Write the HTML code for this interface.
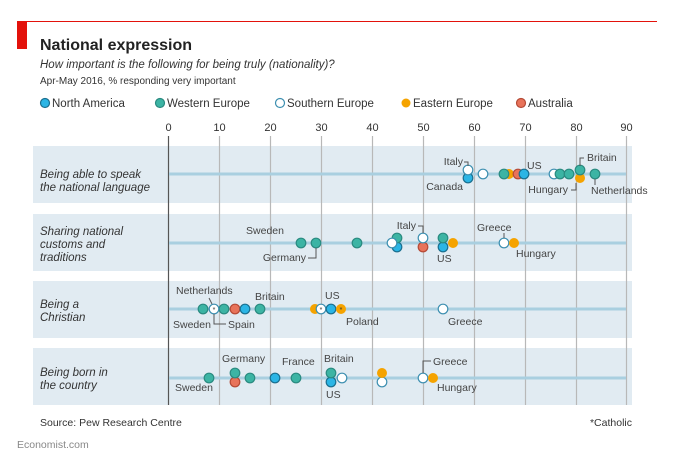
<!DOCTYPE html>
<html><head><meta charset="utf-8"><style>
body{margin:0;background:#fff}
svg{display:block;font-family:"Liberation Sans",sans-serif}
</style></head><body>
<svg width="675" height="475" viewBox="0 0 675 475" xmlns="http://www.w3.org/2000/svg">
<line x1="17" y1="21.5" x2="657" y2="21.5" stroke="#e3120b" stroke-width="1"/>
<rect x="17" y="22" width="10" height="27" fill="#e3120b"/>
<text x="40" y="50" font-size="16" font-weight="bold" fill="#222">National expression</text>
<text x="40" y="68" font-size="11.5" font-style="italic" fill="#333">How important is the following for being truly (nationality)?</text>
<text x="40" y="84" font-size="10" fill="#333">Apr-May 2016, % responding very important</text>
<g font-size="11.5" fill="#333">
<circle cx="45" cy="103" r="4.5" fill="#2bb5e5" stroke="#1a6f8f" stroke-width="1.2"/><text x="52" y="107">North America</text>
<circle cx="160" cy="103" r="4.5" fill="#3cb4a4" stroke="#2a8a80" stroke-width="1.2"/><text x="167" y="107">Western Europe</text>
<circle cx="280" cy="103" r="4.5" fill="#fff" stroke="#3d8fb0" stroke-width="1.2"/><text x="287" y="107">Southern Europe</text>
<circle cx="406" cy="103" r="4.5" fill="#f5a300"/><text x="413" y="107">Eastern Europe</text>
<circle cx="521" cy="103" r="4.5" fill="#e8735a" stroke="#b54a36" stroke-width="1.2"/><text x="528" y="107">Australia</text>
</g>
<g font-size="11" fill="#333" text-anchor="middle">
<text x="168.5" y="131">0</text><text x="219.5" y="131">10</text><text x="270.5" y="131">20</text><text x="321.5" y="131">30</text><text x="372.5" y="131">40</text><text x="423.5" y="131">50</text><text x="474.5" y="131">60</text><text x="525.5" y="131">70</text><text x="576.5" y="131">80</text><text x="626.5" y="131">90</text>
</g>
<g fill="#e1ebf2">
<rect x="33" y="146" width="599" height="57"/>
<rect x="33" y="214" width="599" height="57"/>
<rect x="33" y="281" width="599" height="57"/>
<rect x="33" y="348" width="599" height="57"/>
</g>
<g stroke="#b8b8b8" stroke-width="1.2">
<line x1="219.5" y1="136" x2="219.5" y2="405"/><line x1="270.5" y1="136" x2="270.5" y2="405"/><line x1="321.5" y1="136" x2="321.5" y2="405"/><line x1="372.5" y1="136" x2="372.5" y2="405"/><line x1="423.5" y1="136" x2="423.5" y2="405"/><line x1="474.5" y1="136" x2="474.5" y2="405"/><line x1="525.5" y1="136" x2="525.5" y2="405"/><line x1="576.5" y1="136" x2="576.5" y2="405"/><line x1="626.5" y1="136" x2="626.5" y2="405"/>
</g>
<line x1="168.5" y1="136" x2="168.5" y2="405" stroke="#555" stroke-width="1.2"/>
<g stroke="#a9cfe0" stroke-width="3">
<line x1="169" y1="174" x2="626" y2="174"/><line x1="169" y1="243" x2="626" y2="243"/><line x1="169" y1="309" x2="626" y2="309"/><line x1="169" y1="378" x2="626" y2="378"/>
</g>
<g font-size="11.5" font-style="italic" fill="#333">
<text x="40" y="178">Being able to speak</text><text x="40" y="191">the national language</text>
<text x="40" y="235">Sharing national</text><text x="40" y="248">customs and</text><text x="40" y="261">traditions</text>
<text x="40" y="308">Being a</text><text x="40" y="321">Christian</text>
<text x="40" y="376">Being born in</text><text x="40" y="389">the country</text>
</g>
<defs>
<circle id="na" r="4.8" fill="#2bb5e5" stroke="#1a6f8f" stroke-width="1.2"/>
<circle id="we" r="4.8" fill="#3cb4a4" stroke="#2a8a80" stroke-width="1.2"/>
<circle id="se" r="4.8" fill="#fff" stroke="#3d8fb0" stroke-width="1.2"/>
<circle id="ee" r="5" fill="#f5a300"/>
<circle id="au" r="4.8" fill="#e8735a" stroke="#b54a36" stroke-width="1.2"/>
</defs>
<!-- row1 -->
<use href="#na" x="468" y="178"/><use href="#se" x="468" y="170"/>
<use href="#se" x="483" y="174"/><use href="#ee" x="509" y="174"/><use href="#we" x="504" y="174"/>
<use href="#au" x="518" y="174"/><use href="#na" x="524" y="174"/>
<use href="#se" x="554" y="174"/><use href="#we" x="560" y="174"/><use href="#we" x="569" y="174"/>
<use href="#ee" x="580" y="178"/><use href="#we" x="580" y="170"/><use href="#we" x="595" y="174"/>
<!-- row2 -->
<use href="#we" x="301" y="243"/><use href="#we" x="316" y="243"/><use href="#we" x="357" y="243"/>
<use href="#na" x="397" y="247"/><use href="#we" x="397" y="238"/><use href="#se" x="392" y="243"/>
<use href="#au" x="423" y="247"/><use href="#se" x="423" y="238"/>
<use href="#na" x="443" y="247"/><use href="#we" x="443" y="238"/><use href="#ee" x="453" y="243"/>
<use href="#se" x="504" y="243"/><use href="#ee" x="514" y="243"/>
<!-- row3 -->
<use href="#we" x="203" y="309"/><use href="#we" x="224" y="309"/><use href="#se" x="214" y="309"/>
<use href="#au" x="235" y="309"/><use href="#na" x="245" y="309"/><use href="#we" x="260" y="309"/>
<use href="#ee" x="315" y="309"/><use href="#se" x="321" y="309"/><use href="#na" x="331" y="309"/><use href="#ee" x="341" y="309"/>
<use href="#se" x="443" y="309"/>
<text x="214" y="312" font-size="7" text-anchor="middle" fill="#333">*</text>
<text x="321" y="312" font-size="7" text-anchor="middle" fill="#333">*</text>
<text x="341" y="312" font-size="7" text-anchor="middle" fill="#333">*</text>
<!-- row4 -->
<use href="#we" x="209" y="378"/><use href="#au" x="235" y="382"/><use href="#we" x="235" y="373"/>
<use href="#we" x="250" y="378"/><use href="#na" x="275" y="378"/><use href="#we" x="296" y="378"/>
<use href="#na" x="331" y="382"/><use href="#we" x="331" y="373"/><use href="#se" x="342" y="378"/>
<use href="#se" x="382" y="382"/><use href="#ee" x="382" y="373"/>
<use href="#se" x="423" y="378"/><use href="#ee" x="433" y="378"/>
<g font-size="10.5" fill="#444">
<text x="463" y="165" text-anchor="end">Italy</text><text x="463" y="190" text-anchor="end">Canada</text>
<text x="527" y="169">US</text>
<text x="587" y="161">Britain</text><text x="568" y="193" text-anchor="end">Hungary</text><text x="591" y="194">Netherlands</text>
<text x="284" y="234" text-anchor="end">Sweden</text><text x="306" y="261" text-anchor="end">Germany</text>
<text x="416" y="229" text-anchor="end">Italy</text><text x="437" y="262">US</text>
<text x="477" y="231">Greece</text><text x="516" y="257">Hungary</text>
<text x="176" y="294">Netherlands</text><text x="255" y="300">Britain</text><text x="325" y="299">US</text>
<text x="173" y="328">Sweden</text><text x="228" y="328">Spain</text><text x="346" y="325">Poland</text><text x="448" y="325">Greece</text>
<text x="222" y="362">Germany</text><text x="282" y="365">France</text><text x="324" y="362">Britain</text>
<text x="175" y="391">Sweden</text><text x="326" y="398">US</text>
<text x="433" y="365">Greece</text><text x="437" y="391">Hungary</text>
</g>
<g stroke="#555" stroke-width="1" fill="none">
<polyline points="464,162 468,162 468,166"/>
<polyline points="584,158 580,158 580,166"/><polyline points="571,190 576,190 576,183"/><line x1="595" y1="179" x2="595" y2="185"/>
<polyline points="308,258 316,258 316,248"/><polyline points="418,226 423,226 423,233"/>
<line x1="504" y1="233" x2="504" y2="238"/>
<line x1="209" y1="298" x2="212" y2="304"/><polyline points="214,314 214,324 226,324"/>
<polyline points="431,361 423,361 423,373"/>
</g>
<text x="40" y="426" font-size="10.5" fill="#333">Source: Pew Research Centre</text>
<text x="632" y="426" font-size="10.5" fill="#333" text-anchor="end">*Catholic</text>
<text x="17" y="448" font-size="10.5" fill="#888">Economist.com</text>
</svg>
</body></html>
